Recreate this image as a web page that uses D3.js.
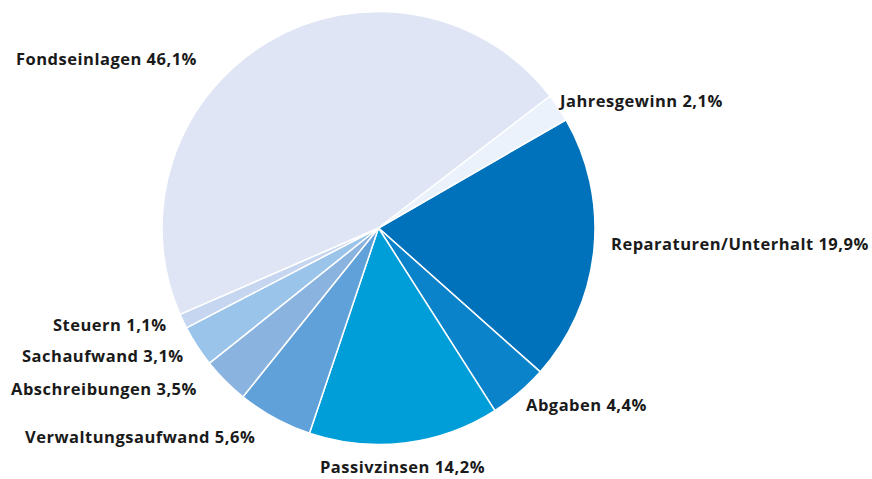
<!DOCTYPE html>
<html>
<head>
<meta charset="utf-8">
<script src="https://cdn.jsdelivr.net/npm/d3@7"></script>
<style>
  body { margin: 0; background: #fff; }
  text { font-family: "Open Sans", Lato, sans-serif; font-weight: 700; fill: #1a1a1a; }
</style>
</head>
<body>
<script>
// Data, clockwise starting at Reparaturen/Unterhalt
let categories = ["Reparaturen/Unterhalt", "Abgaben", "Passivzinsen", "Verwaltungsaufwand",
                  "Abschreibungen", "Sachaufwand", "Steuern", "Fondseinlagen", "Jahresgewinn"];
let shares = [19.9, 4.4, 14.2, 5.6, 3.5, 3.1, 1.1, 46.1, 2.1];
let sliceColors = ["#0072bc", "#0b83ca", "#009ed8", "#5fa1d8", "#8ab3e0",
                   "#9bc4ea", "#c6d6f0", "#dfe5f4", "#ecf2fc"];

// label placement (left x, baseline y)
let labelPos = {
  "Reparaturen/Unterhalt": [611, 250],
  "Abgaben": [526, 411],
  "Passivzinsen": [320, 473],
  "Verwaltungsaufwand": [25, 443],
  "Abschreibungen": [11, 395],
  "Sachaufwand": [22, 362],
  "Steuern": [53, 331],
  "Fondseinlagen": [16, 65],
  "Jahresgewinn": [560, 107]
};

let width = 872, height = 479;
let cx = 378.5, cy = 228, radius = 216.5;
let start = 60 * Math.PI / 180;

let svg = d3.select("body").append("svg")
  .attr("width", width)
  .attr("height", height);

let pie = d3.pie()
  .sort(null)
  .value(d => d)
  .startAngle(start)
  .endAngle(start + 2 * Math.PI);

let arc = d3.arc()
  .innerRadius(0)
  .outerRadius(radius);

let g = svg.append("g")
  .attr("transform", "translate(" + cx + "," + cy + ")");

g.selectAll("path")
  .data(pie(shares))
  .enter().append("path")
  .attr("d", arc)
  .attr("fill", (d, i) => sliceColors[i])
  .attr("stroke", "#fff")
  .attr("stroke-width", 1.5)
  .attr("stroke-linejoin", "round");

let fmt = v => v.toFixed(1).replace(".", ",") + "%";

svg.selectAll("text.lbl")
  .data(categories)
  .enter().append("text")
  .attr("class", "lbl")
  .attr("x", d => labelPos[d][0])
  .attr("y", d => labelPos[d][1])
  .style("font-size", "16.5px")
  .style("letter-spacing", "0.5px")
  .text((d, i) => d + " " + fmt(shares[i]));
</script>
</body>
</html>
